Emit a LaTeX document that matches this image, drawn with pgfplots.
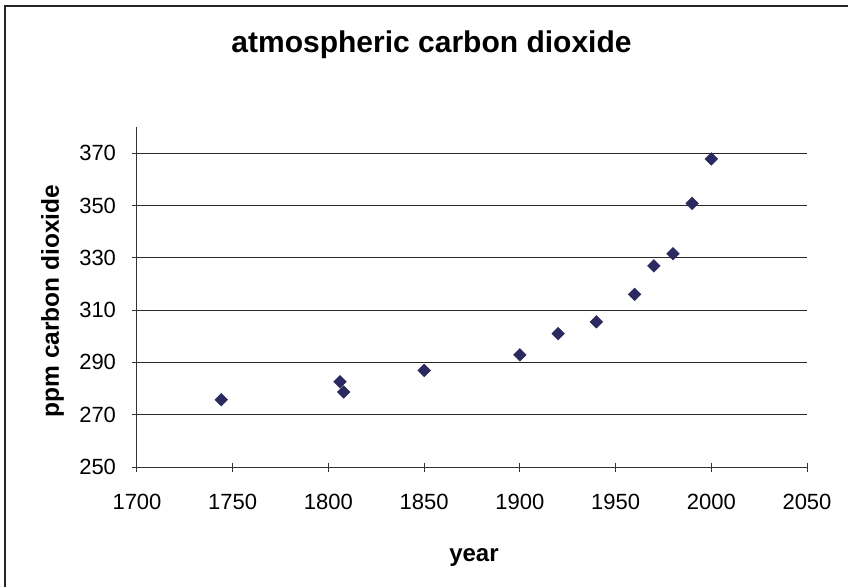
\documentclass[border=0pt]{standalone}
\usepackage{fontspec}
\setmainfont{Liberation Sans}
\usepackage{pgfplots}
\pgfplotsset{compat=1.18}

\definecolor{co2navy}{RGB}{42,42,96}
\definecolor{gridc}{RGB}{40,40,40}

\begin{document}
\begin{tikzpicture}
    % page size: 848 x 587, axis origin at (137,467) of the picture
    \useasboundingbox (-137bp,-120bp) rectangle (711bp,467bp);
    \draw[line width=2bp, color=black!85] (-132bp,-121bp) -- (-132bp,461bp) -- (712bp,461bp);

    \begin{axis}[
        at={(0,0)}, anchor=origin,
        scale only axis,
        width  = 670bp,
        height = 340bp,
        xmin=1700, xmax=2050,
        ymin=250, ymax=380,
        xtick={1700,1750,...,2050},
        ytick={250,270,...,370},
        axis x line=bottom,
        axis y line=left,
        axis line style={-, line width=1bp, color=black!80},
        tick align=center,
        major tick length=9bp,
        tick style={line width=1bp, color=black!80},
        ymajorgrids=true,
        grid style={line width=1bp, color=gridc},
        /pgf/number format/assume math mode=true,
        /pgf/number format/1000 sep={},
        tick label style={font=\fontsize{22bp}{24bp}\selectfont},
        xticklabel style={anchor=base, yshift=-38bp},
        yticklabel style={anchor=east, xshift=-13bp},
        title={atmospheric carbon dioxide},
        title style={font=\bfseries\fontsize{30bp}{32bp}\selectfont,
                     at={(294.5bp,409bp)}, anchor=base},
        xlabel={year},
        xlabel style={font=\bfseries\fontsize{24bp}{28bp}\selectfont,
                      at={(337bp,-94bp)}, anchor=base},
        ylabel={ppm carbon dioxide},
        ylabel style={font=\bfseries\fontsize{24.5bp}{28bp}\selectfont,
                      at={(-78bp,166bp)}, anchor=base, rotate=0},
        clip=false,
    ]
        \addplot[only marks, mark=square*, mark size=4.5bp,
                 mark options={rotate=45, fill=co2navy, draw=co2navy}]
        coordinates {
            (1744,275.7) (1806,282.6) (1808,278.7) (1850,286.9)
            (1900,292.9) (1920,301.0) (1940,305.5) (1960,316.0)
            (1970,326.9) (1980,331.5) (1990,350.8) (2000,367.8)
        };
    \end{axis}
\end{tikzpicture}
\end{document}
